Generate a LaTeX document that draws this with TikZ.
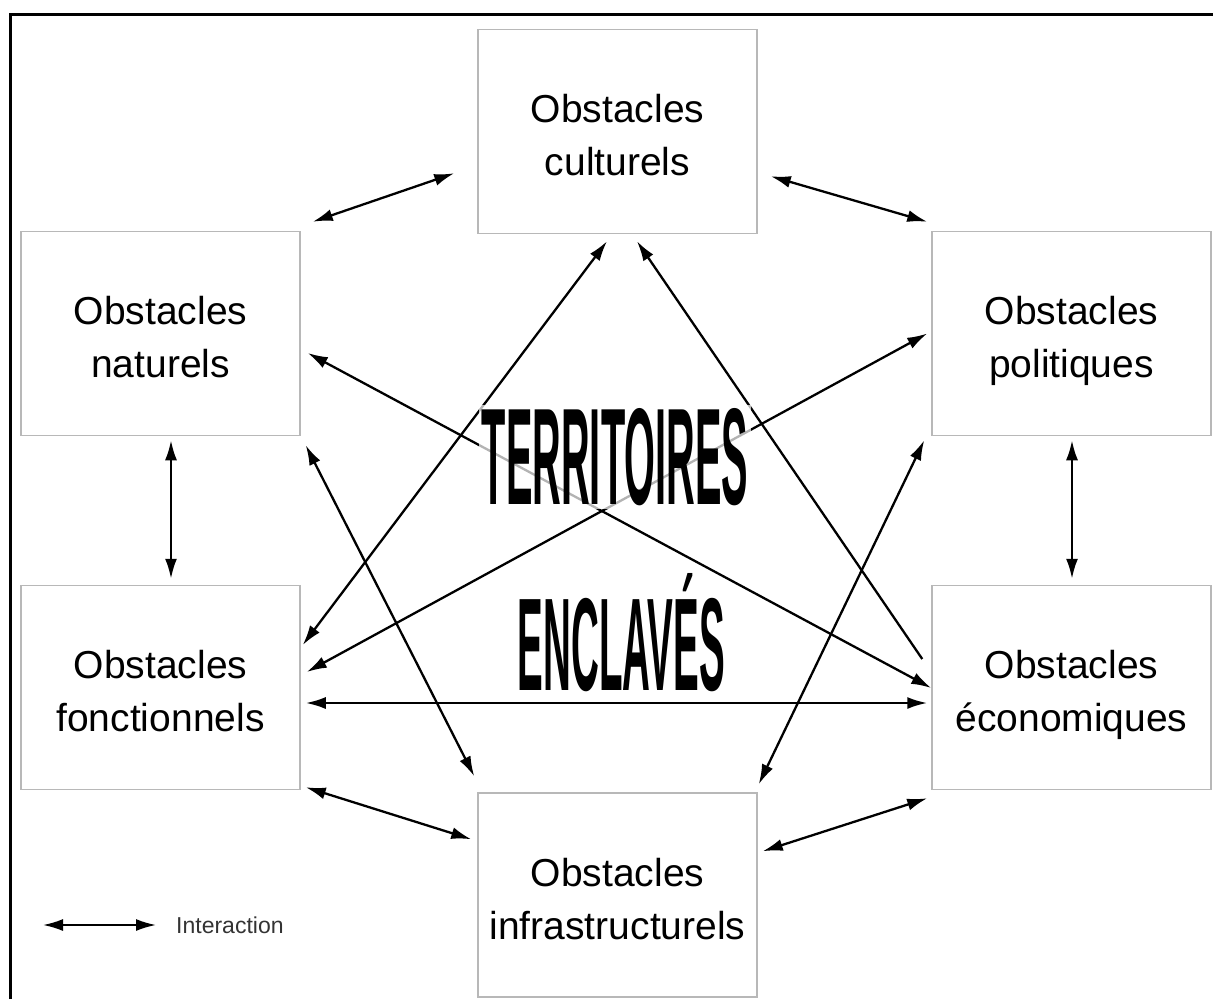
\documentclass[tikz,border=0pt]{standalone}
\usepackage{fontspec}
\setmainfont{Liberation Sans}
\usepackage{tikz}
\usetikzlibrary{arrows.meta}

\newcommand{\obst}[1]{\rule{0pt}{44pt}Obstacles\\#1\rule[-9pt]{0pt}{9pt}}

\tikzset{
  obox/.style={draw=black!28, line width=1.5pt, minimum width=279pt, minimum height=204pt,
    inner sep=0pt, align=center, font=\fontsize{39}{53}\selectfont},
  link/.style={line width=2.3pt, arrows={Latex[length=20pt,width=12pt]-Latex[length=20pt,width=12pt]}},
  halflink/.style={line width=2.3pt, arrows={Latex[length=20pt,width=12pt]-}},
}

\begin{document}
\begin{tikzpicture}[x=1pt,y=-1pt]
\useasboundingbox (0,0) rectangle (1213,999);
\draw [line width=3pt] (10,999) -- (10,14) -- (1213,14);

\node[obox] (cult) at (617.5,131.5) {\obst{culturels}};
\node[obox] (nat) at (160.5,333.5) {\obst{naturels}};
\node[obox] (pol) at (1071.5,333.5) {\obst{politiques}};
\node[obox] (fonc) at (160.5,687.5) {\obst{fonctionnels}};
\node[obox] (eco) at (1071.5,687.5) {\obst{économiques}};
\node[obox] (infra) at (617.5,895) {\obst{infrastructurels}};

\draw [link] ([shift={(12,-9)}]nat.north east) -- ([shift={(-23,-61)}]cult.south west);
\draw [link] ([shift={(13,-58)}]cult.south east) -- ([shift={(-4,-9)}]pol.north west);
\draw [link] ([shift={(10.5,4)}]nat.south) -- ([shift={(10.5,-6)}]fonc.north);
\draw [link] ([shift={(0.5,4)}]pol.south) -- ([shift={(0.5,-6)}]eco.north);
\draw [link] ([shift={(5,15.5)}]fonc.east) -- ([shift={(-4,15.5)}]eco.west);
\draw [link] ([shift={(5,-3)}]fonc.south east) -- ([shift={(-6,47)}]infra.north west);
\draw [link] ([shift={(5,59)}]infra.north east) -- ([shift={(-4,8)}]eco.south west);
\draw [link] ([shift={(-10.5,7)}]cult.south) -- ([shift={(2,-42.5)}]fonc.east);
\draw [halflink] ([shift={(19.5,7)}]cult.south) -- ([shift={(-9,-28.5)}]eco.west);
\draw [link] ([shift={(6,-15.5)}]fonc.east) -- ([shift={(-4,0)}]pol.west);
\draw [link] ([shift={(7,19.5)}]nat.east) -- ([shift={(0,0.5)}]eco.west);
\draw [link] ([shift={(5,9)}]nat.south east) -- ([shift={(-3,-16)}]infra.north west);
\draw [link] ([shift={(-7,4)}]pol.south west) -- ([shift={(1,-8)}]infra.north east);

\node[fill=white, fill opacity=0.7, text opacity=1, inner sep=3pt] (terr) at (615,457)
  {\resizebox{266pt}{96pt}{\bfseries TERRITOIRES}};
\node[anchor=base, inner sep=0pt] (encl) at (621.5,690)
  {\resizebox{207pt}{117pt}{\bfseries ENCLAVÉS}};

% legende
\node[anchor=west, inner sep=0pt, text=black!80, font=\fontsize{23}{26}\selectfont] (leg) at (176,925) {Interaction};
\draw [link, line width=2pt] ([xshift=-133pt]leg.west) -- ([xshift=-20pt]leg.west);
\end{tikzpicture}
\end{document}
